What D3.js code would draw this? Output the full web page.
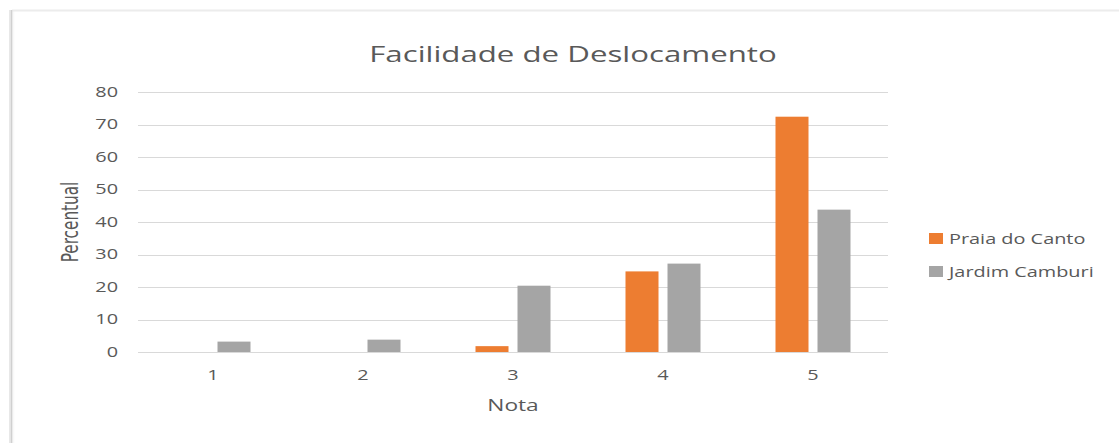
<!DOCTYPE html>
<html>
<head>
<meta charset="utf-8">
<script src="https://cdn.jsdelivr.net/npm/d3@7"></script>
<style>
  body { margin: 0; background: #fff; }
  text { font-family: "Open Sans", "Noto Sans", sans-serif; fill: #595959; }
</style>
</head>
<body>
<div class="chart"></div>
<script>
var notas = ["1", "2", "3", "4", "5"];
var praiaDoCanto = [0, 0, 1.8, 24.8, 72.4];
var jardimCamburi = [3.2, 3.8, 20.4, 27.2, 43.8];
var yTicks = [0, 10, 20, 30, 40, 50, 60, 70, 80];
var seriesNames = ["Praia do Canto", "Jardim Camburi"];
var colors = ["#ed7d31", "#a5a5a5"];

var svgWidth = 1119;
var svgHeight = 443;
// the source picture is stretched sideways, text follows that
var sx = 1.42;

var margin = { top: 92, right: 231, bottom: 91, left: 138 };
var width = svgWidth - margin.left - margin.right;
var height = svgHeight - margin.top - margin.bottom;

var svg = d3.select(".chart")
    .append("svg")
    .attr("width", svgWidth)
    .attr("height", svgHeight);

// chart frame
var defs = svg.append("defs");
var grad = defs.append("linearGradient").attr("id", "edge").attr("x1", 0).attr("x2", 1);
grad.append("stop").attr("offset", 0).attr("stop-color", "#e6e6e6");
grad.append("stop").attr("offset", 1).attr("stop-color", "#ffffff");
svg.append("rect")
    .attr("x", 9).attr("y", 10).attr("width", 6).attr("height", svgHeight - 10)
    .attr("fill", "url(#edge)");
svg.append("line")
    .attr("x1", 12).attr("x2", svgWidth).attr("y1", 10.5).attr("y2", 10.5)
    .attr("stroke", "#ececec").attr("stroke-width", 2);
svg.append("line")
    .attr("x1", 11.5).attr("x2", 11.5).attr("y1", 10).attr("y2", svgHeight)
    .attr("stroke", "#d0d0d0").attr("stroke-width", 1.5);

var chartGroup = svg.append("g")
    .attr("transform", `translate(${margin.left}, ${margin.top})`);

var xScale = d3.scaleBand()
    .domain(notas)
    .range([0, width]);

var yScale = d3.scaleLinear()
    .domain([0, 80])
    .range([height, 0]);

// gridlines
chartGroup.append("g")
    .selectAll("line")
    .data(yTicks)
    .enter()
    .append("line")
    .attr("x1", 0)
    .attr("x2", width)
    .attr("y1", d => Math.round(yScale(d)) + 0.5)
    .attr("y2", d => Math.round(yScale(d)) + 0.5)
    .attr("stroke", "#d9d9d9")
    .attr("stroke-width", 1);

var leftAxis = d3.axisLeft(yScale).tickValues(yTicks).tickSize(0).tickPadding(20);
var yAxisG = chartGroup.append("g").call(leftAxis);
yAxisG.select(".domain").remove();
yAxisG.selectAll("text")
    .style("font-size", "14px")
    .attr("fill", "#595959")
    .attr("x", 0)
    .attr("transform", `translate(-20,0) scale(${sx},1)`);

var bottomAxis = d3.axisBottom(xScale).tickSize(0).tickPadding(18);
var xAxisG = chartGroup.append("g")
    .attr("transform", `translate(0, ${height})`)
    .call(bottomAxis);
xAxisG.select(".domain").remove();
xAxisG.selectAll("text")
    .style("font-size", "14px")
    .attr("fill", "#595959")
    .attr("transform", `scale(${sx},1)`);

// bars
var barW = 33, gap = 9;
var seriesData = [praiaDoCanto, jardimCamburi];
seriesData.forEach(function(vals, s) {
    chartGroup.append("g")
        .selectAll("rect")
        .data(vals)
        .enter()
        .append("rect")
        .attr("x", (d, i) => xScale(notas[i]) + xScale.bandwidth() / 2 + (s === 0 ? -(barW + gap / 2) : gap / 2))
        .attr("y", d => yScale(d))
        .attr("width", barW)
        .attr("height", d => height - yScale(d))
        .attr("fill", colors[s]);
});

// title
svg.append("text")
    .attr("transform", `translate(573, 62) scale(${sx},1)`)
    .attr("text-anchor", "middle")
    .style("font-size", "22px")
    .text("Facilidade de Deslocamento");

// axis titles
svg.append("text")
    .attr("transform", "translate(78, 222) scale(1.3,1) rotate(-90)")
    .attr("text-anchor", "middle")
    .style("font-family", "'Liberation Sans Narrow', 'DejaVu Sans Condensed', sans-serif")
    .style("font-size", "17px")
    .text("Percentual");

svg.append("text")
    .attr("transform", `translate(${margin.left + width / 2}, 411) scale(${sx},1)`)
    .attr("text-anchor", "middle")
    .style("font-size", "16px")
    .text("Nota");

// legend
var legend = svg.append("g").attr("transform", "translate(929, 239)");
seriesNames.forEach(function(name, i) {
    var row = legend.append("g").attr("transform", `translate(0, ${i * 33})`);
    row.append("rect")
        .attr("x", 0).attr("y", -6)
        .attr("width", 14).attr("height", 11)
        .attr("fill", colors[i]);
    row.append("text")
        .attr("transform", `translate(20, 5) scale(${sx},1)`)
        .style("font-size", "14px")
        .text(name);
});
</script>
</body>
</html>
